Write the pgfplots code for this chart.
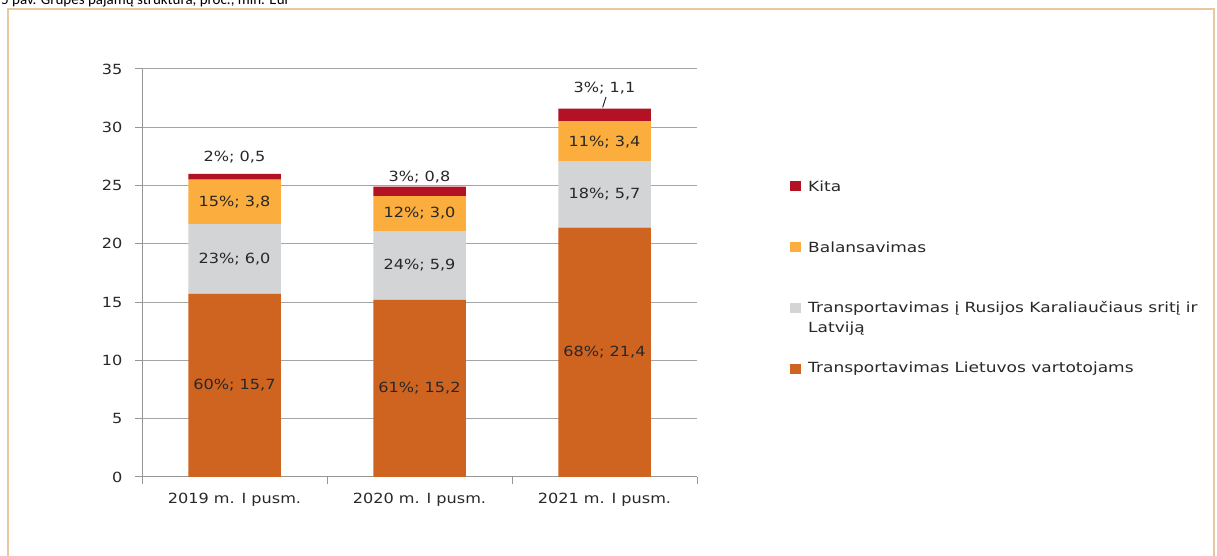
\documentclass[border=0pt]{standalone}
\usepackage{fontspec}
\setmainfont{DejaVu Sans}[FakeStretch=1.15]
\newfontfamily\legfont{DejaVu Sans}[FakeStretch=1.215]
\newfontfamily\titlefont{Carlito}
\usepackage{pgfplots}
\pgfplotsset{compat=1.18}

\definecolor{cLt}{RGB}{207,100,33}
\definecolor{cRu}{RGB}{211,212,214}
\definecolor{cBal}{RGB}{251,173,61}
\definecolor{cKita}{RGB}{178,18,36}
\definecolor{axgray}{RGB}{150,150,150}
\definecolor{grgray}{RGB}{165,165,165}
\definecolor{txt}{RGB}{40,40,40}
\definecolor{frame}{RGB}{232,200,160}

\begin{document}
\begin{tikzpicture}[font=\fontsize{14}{17}\selectfont]
\path[use as bounding box] (0,0) rectangle (1217pt,556pt);
\clip (0,0) rectangle (1217pt,556pt);

% frame and (cut) caption
\draw[frame, line width=1.5pt] (8pt,-10pt) -- (8pt,547pt) -- (1214pt,547pt) -- (1214pt,-10pt);
\node[anchor=base west, inner sep=0pt, text=black, font=\titlefont\fontsize{15}{18}\selectfont]
  at (1pt,551pt) {5 pav. Grupės pajamų struktūra, proc., mln. Eur};

\begin{axis}[
  at={(142pt,79pt)}, anchor=south west,
  scale only axis, width=555pt, height=408pt,
  ybar stacked, bar width=0.5,
  xmin=-0.5, xmax=2.5, ymin=0, ymax=35,
  xtick={0,1,2},
  xticklabels={2019 m. I pusm., 2020 m. I pusm., 2021 m. I pusm.},
  minor xtick={-0.5,0.5,1.5,2.5},
  ytick={0,5,...,35},
  axis x line*=bottom, axis y line*=left,
  axis line style={draw=axgray, line width=1pt, -},
  tick align=outside, major tick length=7pt, minor tick length=7pt,
  tick style={draw=axgray, line width=1pt},
  major x tick style={draw=none},
  ymajorgrids, grid style={draw=grgray, line width=1pt},
  /pgf/number format/assume math mode=true,
  tick label style={font=\fontsize{14}{17}\selectfont, text=txt},
  yticklabel style={xshift=-9pt},
  xticklabel style={yshift=-6pt},
  clip=false,
]
\addplot[fill=cLt, draw=none] coordinates {(0,15.7) (1,15.2) (2,21.4)};
\addplot[fill=cRu, draw=none] coordinates {(0,6.0) (1,5.9) (2,5.7)};
\addplot[fill=cBal, draw=none] coordinates {(0,3.8) (1,3.0) (2,3.4)};
\addplot[fill=cKita, draw=none] coordinates {(0,0.5) (1,0.8) (2,1.1)};

% label anchors (centre of each segment)
\coordinate (a1) at (axis cs:0,7.85);
\coordinate (a2) at (axis cs:1,7.6);
\coordinate (a3) at (axis cs:2,10.7);
\coordinate (b1) at (axis cs:0,18.7);
\coordinate (b2) at (axis cs:1,18.15);
\coordinate (b3) at (axis cs:2,24.3);
\coordinate (c1) at (axis cs:0,23.6);
\coordinate (c2) at (axis cs:1,22.6);
\coordinate (c3) at (axis cs:2,28.75);
\coordinate (d1) at (axis cs:0,27.45);
\coordinate (d2) at (axis cs:1,25.7);
\coordinate (d3) at (axis cs:2,33.4);
\coordinate (l1) at (axis cs:2.008,32.6);
\coordinate (l2) at (axis cs:1.99,31.7);
\end{axis}

% data labels
\begin{scope}[every node/.style={text=txt}]
\node at (a1) {60\%; 15,7};
\node at (a2) {61\%; 15,2};
\node at (a3) {68\%; 21,4};
\node at (b1) {23\%; 6,0};
\node at (b2) {24\%; 5,9};
\node at (b3) {18\%; 5,7};
\node at (c1) {15\%; 3,8};
\node at (c2) {12\%; 3,0};
\node at (c3) {11\%; 3,4};
\node at (d1) {2\%; 0,5};
\node at (d2) {3\%; 0,8};
\node at (d3) {3\%; 1,1};
\draw[txt, line width=1pt] (l1) -- (l2);
\end{scope}

% legend
\begin{scope}[every node/.style={anchor=west, text=txt, inner sep=0pt, font=\legfont\fontsize{14}{17}\selectfont}]
\fill[cKita] (790pt,365pt) rectangle (801pt,375pt);
\node at (808pt,370pt) {Kita};
\fill[cBal] (790pt,304pt) rectangle (801pt,314pt);
\node at (808pt,309pt) {Balansavimas};
\fill[cRu] (790pt,243pt) rectangle (801pt,253pt);
\node at (808pt,248pt) {Transportavimas į Rusijos Karaliaučiaus sritį ir};
\node at (808pt,227pt) {Latviją};
\fill[cLt] (790pt,182pt) rectangle (801pt,192pt);
\node at (808pt,187pt) {Transportavimas Lietuvos vartotojams};
\end{scope}
\end{tikzpicture}
\end{document}
